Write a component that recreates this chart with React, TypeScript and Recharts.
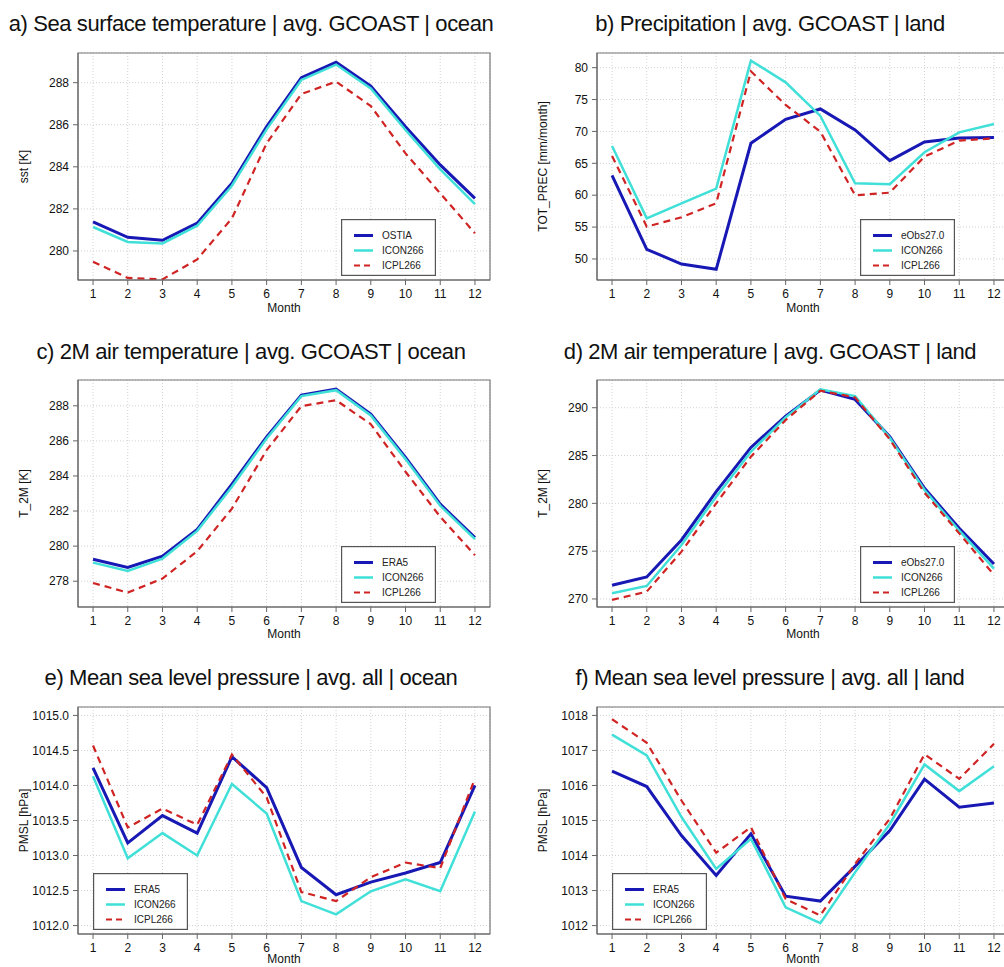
import { LineChart, Line, XAxis, YAxis, CartesianGrid, Legend, ReferenceArea, Label } from "recharts";

// months on the x axis
const months = [1, 2, 3, 4, 5, 6, 7, 8, 9, 10, 11, 12];

// a) sea surface temperature, ocean
const sstOstia = [281.38, 280.65, 280.51, 281.32, 283.22, 285.91, 288.24, 288.97, 287.84, 285.91, 284.09, 282.5];
const sstIcon = [281.14, 280.43, 280.36, 281.2, 283.1, 285.78, 288.13, 288.86, 287.73, 285.75, 283.88, 282.23];
const sstIcpl = [279.49, 278.72, 278.65, 279.6, 281.55, 285.12, 287.46, 288.05, 286.89, 284.64, 282.74, 280.84];

// b) precipitation, land
const precObs = [63.12, 51.52, 49.2, 48.38, 68.14, 71.9, 73.52, 70.23, 65.42, 68.35, 68.98, 69.03];
const precIcon = [67.72, 56.38, 58.73, 61.03, 81.1, 77.7, 72.43, 61.87, 61.71, 66.73, 69.86, 71.17];
const precIcpl = [66.15, 55.07, 56.53, 58.73, 79.43, 74.15, 69.97, 59.98, 60.4, 66.05, 68.56, 68.92];

// c) 2m temperature, ocean
const t2mOceanEra = [279.25, 278.78, 279.43, 280.95, 283.53, 286.23, 288.61, 288.95, 287.52, 285.05, 282.39, 280.49];
const t2mOceanIcon = [279.06, 278.59, 279.29, 280.87, 283.38, 286.14, 288.55, 288.89, 287.45, 284.96, 282.3, 280.4];
const t2mOceanIcpl = [277.9, 277.35, 278.15, 279.71, 282.14, 285.47, 287.98, 288.32, 286.95, 284.24, 281.67, 279.48];

// d) 2m temperature, land
const t2mLandObs = [271.43, 272.3, 276.17, 281.22, 285.85, 289.13, 291.85, 290.87, 286.97, 281.57, 277.39, 273.66];
const t2mLandIcon = [270.59, 271.36, 275.64, 280.7, 285.4, 288.99, 291.92, 291.22, 286.86, 281.39, 277.14, 273.17];
const t2mLandIcpl = [269.9, 270.77, 274.95, 280.0, 284.88, 288.71, 291.78, 291.08, 286.69, 281.11, 276.86, 272.51];

// e) mean sea level pressure, ocean
const pmslOceanEra = [1014.25, 1013.18, 1013.57, 1013.32, 1014.41, 1013.97, 1012.83, 1012.44, 1012.62, 1012.75, 1012.9, 1014.0];
const pmslOceanIcon = [1014.13, 1012.96, 1013.32, 1013.0, 1014.02, 1013.6, 1012.35, 1012.16, 1012.49, 1012.66, 1012.49, 1013.63];
const pmslOceanIcpl = [1014.57, 1013.4, 1013.67, 1013.44, 1014.44, 1013.83, 1012.48, 1012.35, 1012.69, 1012.9, 1012.82, 1014.1];

// f) mean sea level pressure, land
const pmslLandEra = [1016.41, 1015.97, 1014.57, 1013.43, 1014.62, 1012.84, 1012.7, 1013.69, 1014.71, 1016.18, 1015.38, 1015.5];
const pmslLandIcon = [1017.45, 1016.86, 1015.1, 1013.62, 1014.48, 1012.52, 1012.07, 1013.52, 1014.9, 1016.6, 1015.84, 1016.55];
const pmslLandIcpl = [1017.89, 1017.22, 1015.57, 1014.08, 1014.81, 1012.76, 1012.29, 1013.76, 1015.05, 1016.89, 1016.19, 1017.19];

// tick labels
const ticksSst = [280, 282, 284, 286, 288];
const ticksPrec = [50, 55, 60, 65, 70, 75, 80];
const ticksT2mOcean = [278, 280, 282, 284, 286, 288];
const ticksT2mLand = [270, 275, 280, 285, 290];
const ticksPmslOcean = [1012.0, 1012.5, 1013.0, 1013.5, 1014.0, 1014.5, 1015.0];
const ticksPmslLand = [1012, 1013, 1014, 1015, 1016, 1017, 1018];

const BLUE = "#1818b4";
const CYAN = "#40e0d8";
const RED = "#d02424";
const FONT = '"Liberation Sans", Arial, Helvetica, sans-serif';
const X_DOMAIN: [number, number] = [0.567, 12.433];

type PanelProps = {
    title: string;
    yLabel: string;
    obsName: string;
    obs: number[];
    icon: number[];
    icpl: number[];
    yDomain: [number, number];
    yTicks: number[];
    decimals: number;
    plotLeft: number;
    plotTop: number;
    titleX: number;
    titleBaseline: number;
    legendLeft: number;
    monthOffset: number;
};

const LegendBox = ({ obsName }: { obsName: string }) => {
    const rows = [
        { name: obsName, color: BLUE, width: 3, dash: undefined },
        { name: "ICON266", color: CYAN, width: 2.5, dash: undefined },
        { name: "ICPL266", color: RED, width: 2.2, dash: "6 4" },
    ];
    return (
        <svg width={95} height={57} style={{ display: "block", background: "#fff" }}>
            <rect x={0.6} y={0.6} width={93.8} height={55.8} fill="#fff" stroke="#555" strokeWidth={1.2} />
            {rows.map((r, i) => (
                <g key={r.name}>
                    <line x1={13} x2={32} y1={16.5 + i * 15} y2={16.5 + i * 15} stroke={r.color} strokeWidth={r.width} strokeDasharray={r.dash} />
                    <text x={41} y={16.5 + i * 15} dominantBaseline="central" fontSize={10} fontFamily={FONT} fill="#222">{r.name}</text>
                </g>
            ))}
        </svg>
    );
};

function Panel(p: PanelProps) {
    const rows = months.map((m, i) => ({ month: m, obs: p.obs[i], icon: p.icon[i], icpl: p.icpl[i] }));
    const tickStyle = { fill: "#111", fontSize: 12, fontFamily: FONT };

    const yLabelContent = (props: any) => {
        const vb = props.viewBox || { x: 18, y: 13, width: 60, height: 227 };
        const cx = vb.x + 6;
        const cy = vb.y + vb.height / 2;
        return (
            <text x={cx} y={cy} transform={`rotate(-90 ${cx} ${cy})`} textAnchor="middle" dominantBaseline="central" fontSize={12} fontFamily={FONT} fill="#111">
                {p.yLabel}
            </text>
        );
    };

    const monthLabelContent = (props: any) => {
        const vb = props.viewBox || { x: 78, y: 240, width: 412, height: 40 };
        return (
            <text x={vb.x + vb.width / 2} y={vb.y + p.monthOffset} textAnchor="middle" dominantBaseline="central" fontSize={12} fontFamily={FONT} fill="#111">
                Month
            </text>
        );
    };

    return (
        <>
            <div style={{
                position: "absolute", left: p.titleX - 260, width: 520, top: p.titleBaseline - 18.6,
                textAlign: "center", fontSize: 22, lineHeight: "22px", letterSpacing: -0.4,
                whiteSpace: "nowrap", fontFamily: FONT, color: "#111",
            }}>
                {p.title}
            </div>
            <div style={{ position: "absolute", left: p.plotLeft - 78, top: p.plotTop - 13 }}>
                <LineChart width={500} height={280} data={rows} margin={{ top: 13, right: 10, bottom: 0, left: 18 }}>
                    <CartesianGrid stroke="#d2d2d2" strokeDasharray="1 2" />
                    <XAxis dataKey="month" type="number" domain={X_DOMAIN} ticks={months} allowDataOverflow interval={0}
                        height={40} tickSize={5} tickMargin={4} tick={tickStyle} stroke="#666">
                        <Label content={monthLabelContent} />
                    </XAxis>
                    <YAxis type="number" domain={p.yDomain} ticks={p.yTicks} allowDataOverflow interval={0}
                        width={60} tickSize={5} tickMargin={4} tick={tickStyle} stroke="#666"
                        tickFormatter={(v: number) => v.toFixed(p.decimals)}>
                        <Label content={yLabelContent} />
                    </YAxis>
                    <ReferenceArea x1={X_DOMAIN[0]} x2={X_DOMAIN[1]} y1={p.yDomain[0]} y2={p.yDomain[1]}
                        fill="#fff" fillOpacity={0} stroke="#777" strokeWidth={1.2} />
                    <Line dataKey="obs" name={p.obsName} type="linear" stroke={BLUE} strokeWidth={3} dot={false} isAnimationActive={false} />
                    <Line dataKey="icon" name="ICON266" type="linear" stroke={CYAN} strokeWidth={2.5} dot={false} isAnimationActive={false} />
                    <Line dataKey="icpl" name="ICPL266" type="linear" stroke={RED} strokeWidth={2.2} strokeDasharray="7 5" dot={false} isAnimationActive={false} />
                    <Legend layout="vertical" align="center" verticalAlign="middle"
                        content={() => <LegendBox obsName={p.obsName} />}
                        wrapperStyle={{ left: p.legendLeft, top: 179, width: 95, height: 57 }} />
                </LineChart>
            </div>
        </>
    );
}

export default function App() {
    return (
        <div style={{ position: "absolute", left: 0, top: 0, width: 1004, height: 967, overflow: "hidden", background: "#fff" }}>
            <Panel title="a) Sea surface temperature | avg. GCOAST | ocean" yLabel="sst [K]" obsName="OSTIA"
                obs={sstOstia} icon={sstIcon} icpl={sstIcpl} yDomain={[278.62, 289.41]} yTicks={ticksSst} decimals={0}
                plotLeft={78} plotTop={53} titleX={251} titleBaseline={32} legendLeft={341} monthOffset={28} />
            <Panel title="b) Precipitation | avg. GCOAST | land" yLabel="TOT_PREC [mm/month]" obsName="eObs27.0"
                obs={precObs} icon={precIcon} icpl={precIcpl} yDomain={[46.7, 82.3]} yTicks={ticksPrec} decimals={0}
                plotLeft={597} plotTop={53} titleX={770} titleBaseline={32} legendLeft={341} monthOffset={28} />
            <Panel title="c) 2M air temperature | avg. GCOAST | ocean" yLabel="T_2M [K]" obsName="ERA5"
                obs={t2mOceanEra} icon={t2mOceanIcon} icpl={t2mOceanIcpl} yDomain={[276.53, 289.47]} yTicks={ticksT2mOcean} decimals={0}
                plotLeft={78} plotTop={380} titleX={251} titleBaseline={360} legendLeft={341} monthOffset={27} />
            <Panel title="d) 2M air temperature | avg. GCOAST | land" yLabel="T_2M [K]" obsName="eObs27.0"
                obs={t2mLandObs} icon={t2mLandIcon} icpl={t2mLandIcpl} yDomain={[269.16, 292.9]} yTicks={ticksT2mLand} decimals={0}
                plotLeft={597} plotTop={380} titleX={770} titleBaseline={360} legendLeft={341} monthOffset={27} />
            <Panel title="e) Mean sea level pressure | avg. all | ocean" yLabel="PMSL [hPa]" obsName="ERA5"
                obs={pmslOceanEra} icon={pmslOceanIcon} icpl={pmslOceanIcpl} yDomain={[1011.88, 1015.12]} yTicks={ticksPmslOcean} decimals={1}
                plotLeft={78} plotTop={707} titleX={251} titleBaseline={686} legendLeft={93} monthOffset={25} />
            <Panel title="f) Mean sea level pressure | avg. all | land" yLabel="PMSL [hPa]" obsName="ERA5"
                obs={pmslLandEra} icon={pmslLandIcon} icpl={pmslLandIcpl} yDomain={[1011.76, 1018.24]} yTicks={ticksPmslLand} decimals={0}
                plotLeft={597} plotTop={707} titleX={770} titleBaseline={686} legendLeft={93} monthOffset={25} />
        </div>
    );
}
